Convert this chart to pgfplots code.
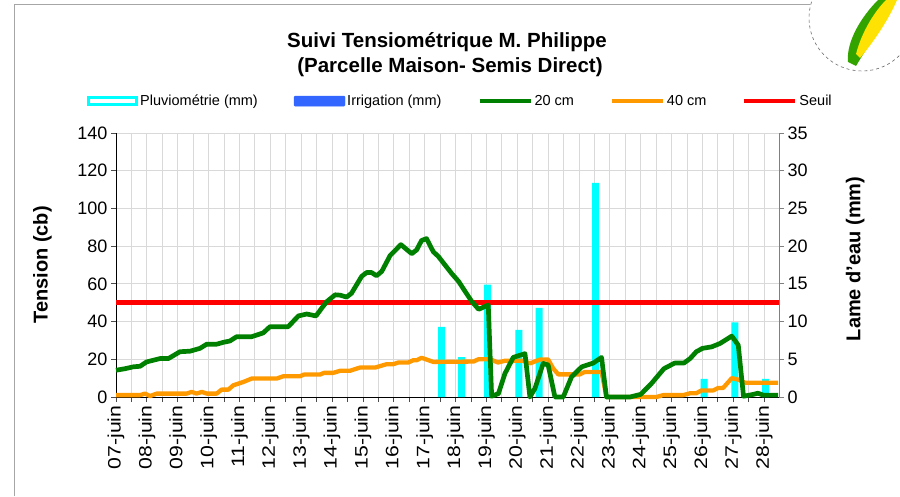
\documentclass[border=0pt]{standalone}
\usepackage{fontspec}
\setmainfont{Liberation Sans}
\usepackage{graphicx}
\usepackage{pgfplots}
\pgfplotsset{compat=1.18}
\definecolor{gr}{RGB}{0,128,0}
\definecolor{orng}{RGB}{255,153,0}
\definecolor{irr}{RGB}{51,102,255}
\definecolor{cy}{RGB}{0,255,255}
\definecolor{gridc}{RGB}{217,217,217}
\newcommand\xl[1]{\scalebox{1.18}[1]{#1}}
\begin{document}
\begin{tikzpicture}[x=1pt,y=1pt]
\useasboundingbox (0,0) rectangle (900,496);
\draw[gray!70, line width=0.8pt] (14,0) -- (14,492) -- (810,492);
\draw[gray!80!black, dashed, line width=0.6pt] (862,478) circle (53);
\fill[green!55!black!80!yellow] (848,434) .. controls (846,455) and (862,480) .. (878,496) -- (892,496) .. controls (882,470) and (868,450) .. (856,430) -- cycle;
\fill[yellow!85!orange] (856,442) .. controls (862,465) and (875,485) .. (886,496) -- (897,496) .. controls (888,475) and (872,452) .. (860,438) -- cycle;
\node[font=\fontsize{20.5}{22}\selectfont\bfseries] at (447,454) {Suivi Tensiométrique M. Philippe};
\node[font=\fontsize{20.5}{22}\selectfont\bfseries] at (450,429) {(Parcelle Maison- Semis Direct)};
% grid / main axis
\begin{axis}[at={(116pt,99pt)}, anchor=south west, scale only axis,
  width=663pt, height=264pt, xmin=0, xmax=21.48, ymin=0, ymax=140,
  axis x line*=bottom, axis y line*=left,
  axis line style={black, line width=0.8pt},
  xtick={0,...,21}, minor xtick={0.5,1.5,...,21.5},
  xticklabels={\xl{07-juin},\xl{08-juin},\xl{09-juin},\xl{10-juin},\xl{11-juin},\xl{12-juin},\xl{13-juin},\xl{14-juin},\xl{15-juin},\xl{16-juin},\xl{17-juin},\xl{18-juin},\xl{19-juin},\xl{20-juin},\xl{21-juin},\xl{22-juin},\xl{23-juin},\xl{24-juin},\xl{25-juin},\xl{26-juin},\xl{27-juin},\xl{28-juin}},
  ytick={0,20,...,140},
  grid=both, major grid style={gridc, line width=0.8pt}, minor grid style={gridc, line width=0.8pt},
  tick align=outside, major tick length=5pt, minor tick length=5pt,
  tick style={black!70, line width=0.8pt},
  /pgf/number format/assume math mode=true,
  ticklabel style={font=\fontsize{18}{20}\selectfont},
  xticklabel style={rotate=90, anchor=east},
  ylabel={Tension (cb)},
  ylabel style={at={(axis description cs:-0.111,0.5)}, anchor=center, rotate=0, font=\fontsize{20}{22}\selectfont\bfseries},
  legend style={draw=none, fill=none, inner sep=0pt, at={(-0.0437,1.121)}, anchor=west,
    font=\fontsize{14.5}{16}\selectfont, legend columns=5,
    /tikz/every even column/.append style={column sep=34pt}},
  legend cell align=left,
]
\addlegendimage{legend image code/.code={\draw[cy, fill=white, line width=3pt] (1.5pt,-3.5pt) rectangle (49.5pt,3.5pt);}}
\addlegendentry{Pluviométrie (mm)}
\addlegendimage{legend image code/.code={\fill[irr, rounded corners=1pt] (0pt,-5pt) rectangle (51pt,5pt);}}
\addlegendentry{Irrigation (mm)}
\addlegendimage{legend image code/.code={\draw[gr, line width=4pt] (0pt,0pt) -- (51pt,0pt);}}
\addlegendentry{20 cm}
\addlegendimage{legend image code/.code={\draw[orng, line width=4pt] (0pt,0pt) -- (51pt,0pt);}}
\addlegendentry{40 cm}
\addlegendimage{legend image code/.code={\draw[red, line width=4pt] (0pt,0pt) -- (51pt,0pt);}}
\addlegendentry{Seuil}
\end{axis}
% bars, right axis
\begin{axis}[at={(116pt,99pt)}, anchor=south west, scale only axis,
  width=663pt, height=264pt, xmin=0, xmax=21.48, ymin=0, ymax=35,
  axis x line=none, axis y line*=right,
  axis line style={black!50, line width=0.8pt},
  ytick={0,5,...,35},
  tick align=outside, major tick length=5pt,
  tick style={black!50, line width=0.8pt},
  /pgf/number format/assume math mode=true,
  ticklabel style={font=\fontsize{18}{20}\selectfont},
  ylabel={Lame d'eau (mm)},
  ylabel style={at={(axis description cs:1.115,0.523)}, anchor=center, rotate=0, font=\fontsize{20}{22}\selectfont\bfseries},
]
\addplot[ybar, bar width=7pt, bar shift=0pt, fill=cy, draw=none] coordinates {
(10.55,9.3)(11.2,5.3)(12.04,14.9)(13.05,8.9)(13.71,11.8)(15.54,28.4)(19.05,2.4)(20.05,9.9)(21.05,2.4)};
\end{axis}
% lines
\begin{axis}[at={(116pt,99pt)}, anchor=south west, scale only axis,
  width=663pt, height=264pt, xmin=0, xmax=21.48, ymin=0, ymax=140,
  hide axis, clip=false]
\addplot[red, line width=5pt] coordinates {(0,50) (21.48,50)};
\addplot[orng, line width=4.3pt, line join=round] coordinates {
(0,1)(0.78,1)(0.94,1.8)(1.10,0.5)(1.32,1.8)(2.29,1.8)(2.45,2.7)(2.61,1.8)(2.78,2.7)(2.94,1.8)(3.26,1.8)(3.42,3.9)(3.64,3.9)(3.80,6.2)(4.13,8)(4.40,9.8)(5.21,9.8)(5.42,11)(5.96,11)(6.09,11.9)(6.61,11.9)(6.74,12.8)(7.04,12.8)(7.26,13.9)(7.58,13.9)(7.90,15.6)(8.39,15.6)(8.77,17.4)(8.98,17.4)(9.15,18.3)(9.47,18.3)(9.63,19.5)(9.74,19.5)(9.90,20.8)(10.28,18.6)(11.58,18.8)(11.74,20)(12.12,20)(12.38,18.3)(12.60,19.2)(13.19,19.2)(13.41,17.8)(13.74,19.9)(14.0,19.9)(14.17,15)(14.33,12)(15.03,12)(15.19,13.3)(15.73,13.3)(15.89,0)(17.51,0)(17.73,1)(18.38,1)(18.6,2)(18.8,2)(18.97,3.5)(19.35,3.5)(19.51,4.8)(19.67,4.8)(19.95,10)(20.16,9.2)(20.38,7.6)(21.45,7.6)};
\addplot[gr, line width=4.7pt, line join=round] coordinates {
(0,14.2)(0.29,15)(0.56,16)(0.78,16.3)(0.99,18.6)(1.21,19.5)(1.43,20.4)(1.70,20.4)(2.07,24)(2.40,24.3)(2.72,25.8)(2.94,28)(3.26,28)(3.48,29)(3.69,29.7)(3.91,32)(4.40,32)(4.77,34)(4.99,37.3)(5.15,37.3)(5.58,37.3)(5.91,43)(6.18,44)(6.48,43)(6.66,47)(6.83,50.6)(7.10,54.2)(7.26,54)(7.47,53)(7.63,55)(7.96,64)(8.12,66)(8.28,66)(8.44,64.3)(8.61,66.6)(8.88,75)(9.23,80.8)(9.58,76)(9.74,78)(9.90,83)(10.06,84)(10.28,77)(10.44,74.6)(10.66,70)(10.88,65.4)(11.1,61.3)(11.31,56)(11.53,50.6)(11.75,46.5)(12.06,48.8)(12.17,0.4)(12.39,1.8)(12.6,12.4)(12.87,21)(13.25,23)(13.41,0)(13.57,4.4)(13.84,17.8)(14.0,17)(14.22,0)(14.49,0)(14.76,10.7)(15.09,16)(15.46,18)(15.73,21)(15.89,0)(16.65,0)(17.0,1.4)(17.34,7)(17.75,15)(18.1,18)(18.4,18)(18.6,20.4)(18.8,24)(19.0,25.8)(19.3,26.6)(19.57,28.4)(19.95,32.3)(20.16,27.5)(20.33,0.4)(20.65,1.4)(20.8,2)(20.97,1)(21.45,1)};
\end{axis}
\end{tikzpicture}
\end{document}
